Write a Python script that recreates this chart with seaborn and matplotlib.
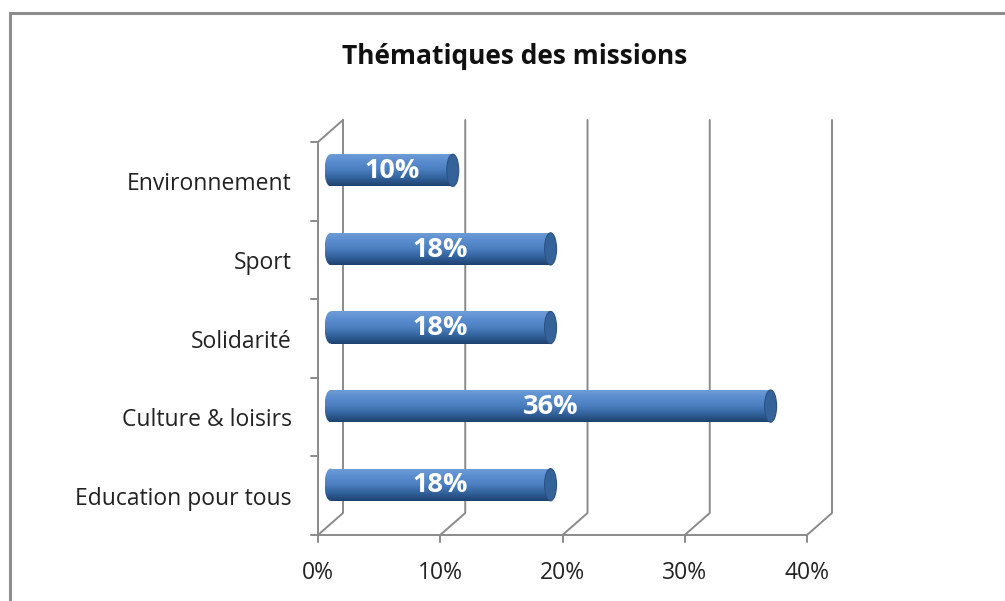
import numpy as np
import pandas as pd
import matplotlib
matplotlib.use("Agg")
import matplotlib.pyplot as plt
from matplotlib.patches import Ellipse, Rectangle
import seaborn as sns

# --- data ---
categories = ["Environnement", "Sport", "Solidarité", "Culture & loisirs", "Education pour tous"]
shares = [10, 18, 18, 36, 18]  # percent
x_ticks = [0, 10, 20, 30, 40]
x_tick_labels = ["0%", "10%", "20%", "30%", "40%"]
title = "Thématiques des missions"

df = pd.DataFrame({"Thème": categories, "Part": shares})

W, H = 1005, 601
sns.set_theme(style="white")
plt.rcParams["font.family"] = ["Open Sans", "DejaVu Sans"]

fig = plt.figure(figsize=(W / 100, H / 100), dpi=100)
fig.patch.set_facecolor("white")

# front plane of the plot area in pixels
px_left, px_right = 318, 807
px_bottom = 535
band_px = 78.6
y_top_data = -0.8
px_top = px_bottom - (4.5 - y_top_data) * band_px
ax = fig.add_axes([px_left / W, (H - px_bottom) / H,
                   (px_right - px_left) / W, (px_bottom - px_top) / H])

sns.barplot(data=df, y="Thème", x="Part", orient="h", ax=ax,
            color="#4f81bd", width=0.41, saturation=1)
ax.set_xlim(0, 40)
ax.set_ylim(4.5, y_top_data)
for s in ax.spines.values():
    s.set_visible(False)
ax.set_xlabel("")
ax.set_ylabel("")

# depth offsets in data units
xpx = 40 / (px_right - px_left)
depth_x = 25 * xpx
depth_y = 22 / band_px
mid_x, mid_y = depth_x / 2, depth_y / 2

grid_c = "#8a8a8a"
lw = 1.4
back_top = -0.5 - depth_y
for xt in x_ticks:
    ax.plot([xt + depth_x, xt + depth_x, xt], [back_top, 4.5 - depth_y, 4.5],
            color=grid_c, lw=lw, clip_on=False, zorder=1)
# front axes
ax.plot([0, 0, depth_x], [4.5, -0.5, back_top], color=grid_c, lw=lw, clip_on=False, zorder=1)
ax.plot([0, 40], [4.5, 4.5], color=grid_c, lw=lw, clip_on=False, zorder=1)
for yb in np.arange(-0.5, 4.6, 1.0):
    ax.plot([-7 * xpx, 0], [yb, yb], color=grid_c, lw=lw, clip_on=False, zorder=1)
for xt in x_ticks:
    ax.plot([xt, xt], [4.5, 4.5 + 7 / band_px], color=grid_c, lw=lw, clip_on=False, zorder=1)

ax.set_xticks(x_ticks)
ax.set_xticklabels(x_tick_labels, fontsize=16.5, color="#222222")
ax.set_yticks(range(len(categories)))
ax.set_yticklabels(categories, fontsize=16.5, color="#222222")
ax.tick_params(axis="y", length=0, pad=19)
ax.tick_params(axis="x", length=0, pad=19)

# cylinder look: gradient bodies, rounded left end, dark right cap
grad = np.linspace(0, 1, 64).reshape(-1, 1)
cmap = matplotlib.colors.LinearSegmentedColormap.from_list(
    "cyl", ["#6f9dd6", "#5a8dcf", "#4b7fc0", "#33639d", "#1f4270"])
cap_w = 12 * xpx
for p, val in zip(list(ax.patches), shares):
    y0 = p.get_y() - mid_y
    h = p.get_height()
    x0 = mid_x
    x1 = mid_x + val
    p.set_visible(False)
    body = Rectangle((x0, y0), x1 - x0, h, transform=ax.transData, facecolor="none", edgecolor="none")
    ax.add_patch(body)
    im = ax.imshow(grad, cmap=cmap, extent=(x0, x1, y0 + h, y0), aspect="auto",
                   zorder=3, interpolation="bilinear")
    im.set_clip_path(body)
    left = Ellipse((x0, y0 + h / 2), cap_w, h, facecolor="none", edgecolor="none")
    ax.add_patch(left)
    im2 = ax.imshow(grad, cmap=cmap, extent=(x0 - cap_w / 2, x0 + 0.1, y0 + h, y0),
                    aspect="auto", zorder=3, interpolation="bilinear")
    im2.set_clip_path(left)
    right = Ellipse((x1, y0 + h / 2), cap_w, h, facecolor="#36629a",
                    edgecolor="#2b5283", lw=0.8, zorder=4)
    ax.add_patch(right)
    ax.text((x0 + x1) / 2, y0 + h / 2 + 0.01, f"{val}%", color="white",
            fontsize=19.5, fontweight="bold", ha="center", va="center", zorder=5)

ax.set_xlim(0, 40)
ax.set_ylim(4.5, y_top_data)

fig.text(515 / W, 1 - 56 / H, title, fontsize=19, fontweight="bold",
         ha="center", va="center", color="#111111")

# outer chart frame
frame = Rectangle((10 / W, -0.05), 1.1, 1 - 13 / H + 0.05, transform=fig.transFigure,
                  fill=False, edgecolor="#8c8c8c", lw=2.2, clip_on=False)
fig.patches.append(frame)

fig.savefig("out.png", dpi=100)
